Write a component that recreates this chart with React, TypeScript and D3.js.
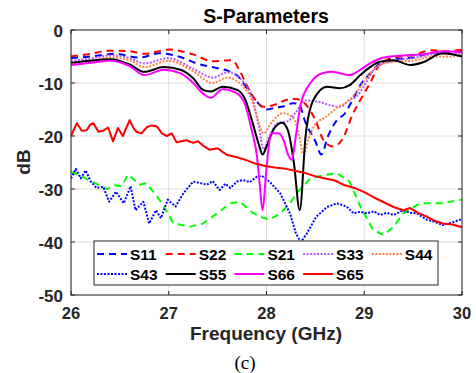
import React from "react";
import * as d3 from "d3";

// ---------- data ----------
const xTicks = [26, 27, 28, 29, 30];
const yTicks = [0, -10, -20, -30, -40, -50];

const s11F = [26, 26.2, 26.45, 26.7, 26.9, 27.1, 27.3, 27.5, 27.62, 27.7, 27.8, 27.9, 28.0, 28.08, 28.18, 28.27, 28.33, 28.4, 28.5, 28.56, 28.63, 28.72, 28.8, 28.88, 28.96, 29.06, 29.16, 29.3, 29.5, 29.7, 29.85, 30];
const s11V = [-5.3, -5.0, -4.5, -5.2, -4.4, -5.0, -6.4, -7.2, -7.8, -8.6, -11, -13.5, -15, -14.7, -14.4, -13.8, -14, -17.5, -21, -23.5, -20, -17, -15.8, -13.2, -10.4, -8.2, -6.3, -5.5, -5.2, -4.3, -4.2, -4.0];

const s22F = [26, 26.2, 26.4, 26.6, 26.75, 27.0, 27.25, 27.45, 27.65, 27.72, 27.8, 27.9, 27.97, 28.1, 28.2, 28.3, 28.4, 28.5, 28.58, 28.68, 28.78, 28.88, 28.96, 29.06, 29.16, 29.3, 29.5, 29.7, 29.85, 30];
const s22V = [-5.0, -4.5, -3.9, -4.0, -4.5, -3.7, -4.6, -5.9, -5.7, -7.5, -10.5, -13.5, -14.5, -14.0, -13.2, -13.0, -14, -17, -20.7, -22, -20.5, -16, -13.2, -10, -6.5, -5.2, -4.7, -3.8, -4.0, -3.7];

const s21F = [26, 26.1, 26.2, 26.29, 26.37, 26.45, 26.52, 26.58, 26.63, 26.7, 26.77, 26.88, 26.94, 27.05, 27.22, 27.35, 27.5, 27.63, 27.73, 27.86, 27.93, 28.03, 28.14, 28.24, 28.31, 28.45, 28.58, 28.72, 28.85, 28.96, 29.09, 29.2, 29.3, 29.4, 29.57, 29.8, 30];
const s21V = [-26.8, -27.5, -28.5, -29.3, -30, -29.3, -29.5, -27.3, -28, -29.2, -28.9, -31.4, -33, -36.5, -37.1, -36.5, -34.5, -32.7, -32.4, -34.5, -35.2, -35.8, -34.6, -32.7, -30.8, -28, -27.4, -27, -28.6, -33.3, -37.7, -38.7, -37.1, -34.6, -32.7, -32.7, -32];

const s33F = [26, 26.2, 26.4, 26.6, 26.75, 27.0, 27.25, 27.45, 27.6, 27.75, 27.85, 27.92, 27.97, 28.03, 28.12, 28.22, 28.3, 28.4, 28.55, 28.65, 28.75, 28.85, 28.92, 29.0, 29.08, 29.16, 29.3, 29.5, 29.7, 29.85, 30];
const s33V = [-5.8, -5.4, -4.8, -5.3, -6.3, -5.3, -7.3, -9.0, -8.0, -9.5, -12.5, -18, -22.5, -20, -17.5, -17.2, -15.5, -13.3, -13.6, -14.2, -14.5, -13.2, -12.6, -10.5, -8, -6.6, -5.8, -5.3, -4.6, -4.5, -4.5];

const s44F = [26, 26.2, 26.4, 26.6, 26.75, 27.0, 27.25, 27.45, 27.6, 27.75, 27.85, 27.92, 27.97, 28.05, 28.17, 28.27, 28.33, 28.38, 28.43, 28.5, 28.6, 28.72, 28.85, 28.96, 29.06, 29.16, 29.3, 29.5, 29.7, 29.85, 30];
const s44V = [-6.2, -5.8, -5.2, -5.7, -7.0, -5.8, -7.8, -10.0, -9.0, -10.5, -13.2, -17.5, -19.5, -17.5, -15.7, -16.5, -19.5, -23.5, -20.5, -17.8, -16.5, -14.7, -13.2, -10.7, -8.2, -6.6, -6.0, -5.8, -5.0, -5.0, -4.8];

const s43F = [26, 26.05, 26.1, 26.15, 26.2, 26.26, 26.33, 26.39, 26.46, 26.54, 26.61, 26.66, 26.74, 26.8, 26.87, 26.92, 26.99, 27.07, 27.15, 27.25, 27.35, 27.39, 27.45, 27.52, 27.58, 27.63, 27.7, 27.76, 27.83, 27.9, 27.95, 28.03, 28.14, 28.24, 28.3, 28.35, 28.41, 28.51, 28.62, 28.72, 28.82, 28.89, 28.96, 29.03, 29.1, 29.16, 29.23, 29.3, 29.4, 29.47, 29.54, 29.64, 29.72, 29.8, 29.9, 29.98, 30];
const s43V = [-28, -26.2, -28, -26.5, -28.5, -29.8, -29.6, -32.4, -30.5, -32.7, -29.5, -34, -32.4, -36.5, -34, -35.5, -32, -33.3, -30.8, -28.6, -29, -29.2, -28.5, -30.2, -29, -29.8, -28.6, -28.3, -28.7, -27.7, -27.5, -28.6, -30.8, -34.6, -38.3, -40, -38.5, -35.2, -33.4, -32.7, -33.3, -34.6, -34.3, -34.6, -34.2, -34.9, -34.5, -34.9, -34, -34.5, -34.6, -35.8, -36.2, -36.8, -36.3, -35.8, -35.5];

const s55F = [26, 26.2, 26.4, 26.6, 26.75, 26.95, 27.12, 27.25, 27.35, 27.43, 27.55, 27.7, 27.78, 27.85, 27.92, 27.96, 28.0, 28.08, 28.16, 28.22, 28.28, 28.34, 28.4, 28.48, 28.62, 28.75, 28.85, 28.96, 29.06, 29.16, 29.3, 29.47, 29.6, 29.8, 30];
const s55V = [-6.2, -5.8, -5.5, -6.5, -7.9, -7.0, -7.5, -9.1, -11.3, -11.6, -10.7, -11.3, -13, -17, -21.5, -23.5, -22, -18.5, -17.5, -19, -25, -34, -20, -13.2, -10.7, -11, -10.4, -8.5, -7, -6, -5.7, -6.6, -6.1, -4.4, -5];

const s66F = [26, 26.2, 26.4, 26.6, 26.75, 26.95, 27.12, 27.25, 27.35, 27.43, 27.55, 27.7, 27.78, 27.85, 27.9, 27.93, 27.96, 28.0, 28.05, 28.12, 28.18, 28.22, 28.26, 28.3, 28.35, 28.45, 28.58, 28.67, 28.85, 28.96, 29.06, 29.2, 29.4, 29.6, 29.8, 30];
const s66V = [-6.6, -6.2, -5.8, -6.8, -8.5, -7.5, -8.2, -10, -12, -12.8, -11.2, -12, -14, -19, -23.5, -29, -34, -26, -19.5, -19.5, -21, -23.5, -24.5, -20, -14, -10, -8.1, -7.9, -8.5, -7.5, -6.3, -5.2, -4.8, -4.6, -4.0, -4.2];

const s65F = [26, 26.06, 26.11, 26.16, 26.2, 26.23, 26.28, 26.33, 26.38, 26.43, 26.48, 26.53, 26.6, 26.64, 26.67, 26.72, 26.78, 26.83, 26.88, 26.93, 26.98, 27.03, 27.08, 27.13, 27.18, 27.25, 27.3, 27.35, 27.42, 27.5, 27.55, 27.6, 27.7, 27.8, 27.9, 28.0, 28.1, 28.2, 28.3, 28.4, 28.5, 28.6, 28.7, 28.8, 28.9, 29.0, 29.1, 29.2, 29.3, 29.4, 29.47, 29.55, 29.64, 29.72, 29.8, 29.9, 30];
const s65V = [-20, -17.6, -19, -18.9, -17.8, -17.6, -19.2, -19, -18.4, -21, -18.5, -20, -17, -18.5, -19.2, -19.5, -18.3, -18, -18.2, -19.5, -20, -19.5, -21.2, -21, -20.8, -21.3, -21, -21.8, -22.6, -22.3, -23, -23.6, -24, -24.6, -25.3, -25.7, -26, -26.2, -26.6, -27, -27.6, -28, -28.4, -29.3, -29.8, -30.6, -31.6, -32.5, -33.4, -34, -33.6, -34.5, -35.2, -36, -36.5, -36.7, -37.2];

const seriesNames = ["S11", "S22", "S21", "S33", "S44", "S43", "S55", "S66", "S65"];
const seriesFreqs = [s11F, s22F, s21F, s33F, s44F, s43F, s55F, s66F, s65F];
const seriesVals = [s11V, s22V, s21V, s33V, s44V, s43V, s55V, s66V, s65V];
const seriesColors = ["#0000ff", "#ff0000", "#00ff00", "#b25aff", "#ff8040", "#0000ff", "#000000", "#ff00ff", "#ff0000"];
const seriesDash = ["7,5", "7,5", "7,5", "2,1.5", "2,1.5", "2,1.5", "", "", ""];

// ---------- layout ----------
const W = 476;
const H = 373;
const L = 71, R = 462, T = 30, B = 295;
const FONT = "'Liberation Sans', Arial, sans-serif";

export default function App() {
  const x = d3.scaleLinear().domain([26, 30]).range([L, R]);
  const y = d3.scaleLinear().domain([-50, 0]).range([B, T]);
  const jagged = new Set(["S43", "S65", "S21"]);

  const paths = seriesNames.map((name, i) => {
    const pts: [number, number][] = seriesFreqs[i].map((f, k) => [f, seriesVals[i][k]]);
    const gen = d3
      .line<[number, number]>()
      .x((d) => x(d[0]))
      .y((d) => y(d[1]))
      .curve(jagged.has(name) ? d3.curveLinear : d3.curveMonotoneX);
    return gen(pts) || "";
  });

  const legX0 = 94, legY0 = 241, legW = 344, legH = 44;
  const colW = 68.7;
  const rowY = [254, 274];

  return (
    <svg width={W} height={H} style={{ position: "absolute", left: 0, top: 0, background: "#fff" }} fontFamily={FONT}>
      <rect x={0} y={0} width={W} height={H} fill="#fff" />
      <rect x={L} y={T} width={R - L} height={B - T} fill="#fff" />
      {/* grid */}
      {xTicks.map((t) => (
        <line key={"gx" + t} x1={x(t)} x2={x(t)} y1={T} y2={B} stroke="#dedede" strokeWidth={1} />
      ))}
      {yTicks.map((t) => (
        <line key={"gy" + t} x1={L} x2={R} y1={y(t)} y2={y(t)} stroke="#dedede" strokeWidth={1} />
      ))}
      <defs>
        <clipPath id="plotclip">
          <rect x={L} y={T} width={R - L} height={B - T} />
        </clipPath>
      </defs>
      <g clipPath="url(#plotclip)">
        {paths.map((d, i) => (
          <path
            key={seriesNames[i]}
            d={d}
            fill="none"
            stroke={seriesColors[i]}
            strokeWidth={2}
            strokeDasharray={seriesDash[i] || undefined}
            strokeLinejoin="round"
          />
        ))}
      </g>
      {/* axes box */}
      <rect x={L} y={T} width={R - L} height={B - T} fill="none" stroke="#262626" strokeWidth={1} />
      {xTicks.map((t) => (
        <g key={"tx" + t}>
          <line x1={x(t)} x2={x(t)} y1={B} y2={B - 4} stroke="#262626" />
          <line x1={x(t)} x2={x(t)} y1={T} y2={T + 4} stroke="#262626" />
          <text x={x(t)} y={319} textAnchor="middle" fontSize={16.5} fontWeight="bold" fill="#262626">
            {t}
          </text>
        </g>
      ))}
      {yTicks.map((t) => (
        <g key={"ty" + t}>
          <line x1={L} x2={L + 4} y1={y(t)} y2={y(t)} stroke="#262626" />
          <line x1={R} x2={R - 4} y1={y(t)} y2={y(t)} stroke="#262626" />
          <text x={63} y={y(t) + 7} textAnchor="end" fontSize={17} fontWeight="bold" fill="#262626">
            {t}
          </text>
        </g>
      ))}
      {/* title and labels */}
      <text x={266} y={23} textAnchor="middle" fontSize={19.5} fontWeight="bold" fill="#000">
        S-Parameters
      </text>
      <text x={266} y={340} textAnchor="middle" fontSize={19} fontWeight="bold" fill="#262626">
        Frequency (GHz)
      </text>
      <text
        transform={`translate(30,162) rotate(-90)`}
        textAnchor="middle"
        fontSize={19}
        fontWeight="bold"
        fill="#262626"
      >
        dB
      </text>
      <text x={245} y={369} textAnchor="middle" fontSize={19} fontFamily="'Liberation Serif', 'Times New Roman', serif" fill="#000">
        (c)
      </text>
      {/* legend */}
      <rect x={legX0} y={legY0} width={legW} height={legH} fill="#fff" stroke="#262626" strokeWidth={1} />
      {seriesNames.map((name, i) => {
        const col = i % 5;
        const row = Math.floor(i / 5);
        const lx = 97 + col * colW;
        const ly = rowY[row];
        return (
          <g key={"leg" + name}>
            <line
              x1={lx}
              x2={lx + 30}
              y1={ly}
              y2={ly}
              stroke={seriesColors[i]}
              strokeWidth={2}
              strokeDasharray={seriesDash[i] || undefined}
            />
            <text x={lx + 33} y={ly + 5.5} fontSize={15.5} fontWeight="bold" fill="#000">
              {name}
            </text>
          </g>
        );
      })}
    </svg>
  );
}
